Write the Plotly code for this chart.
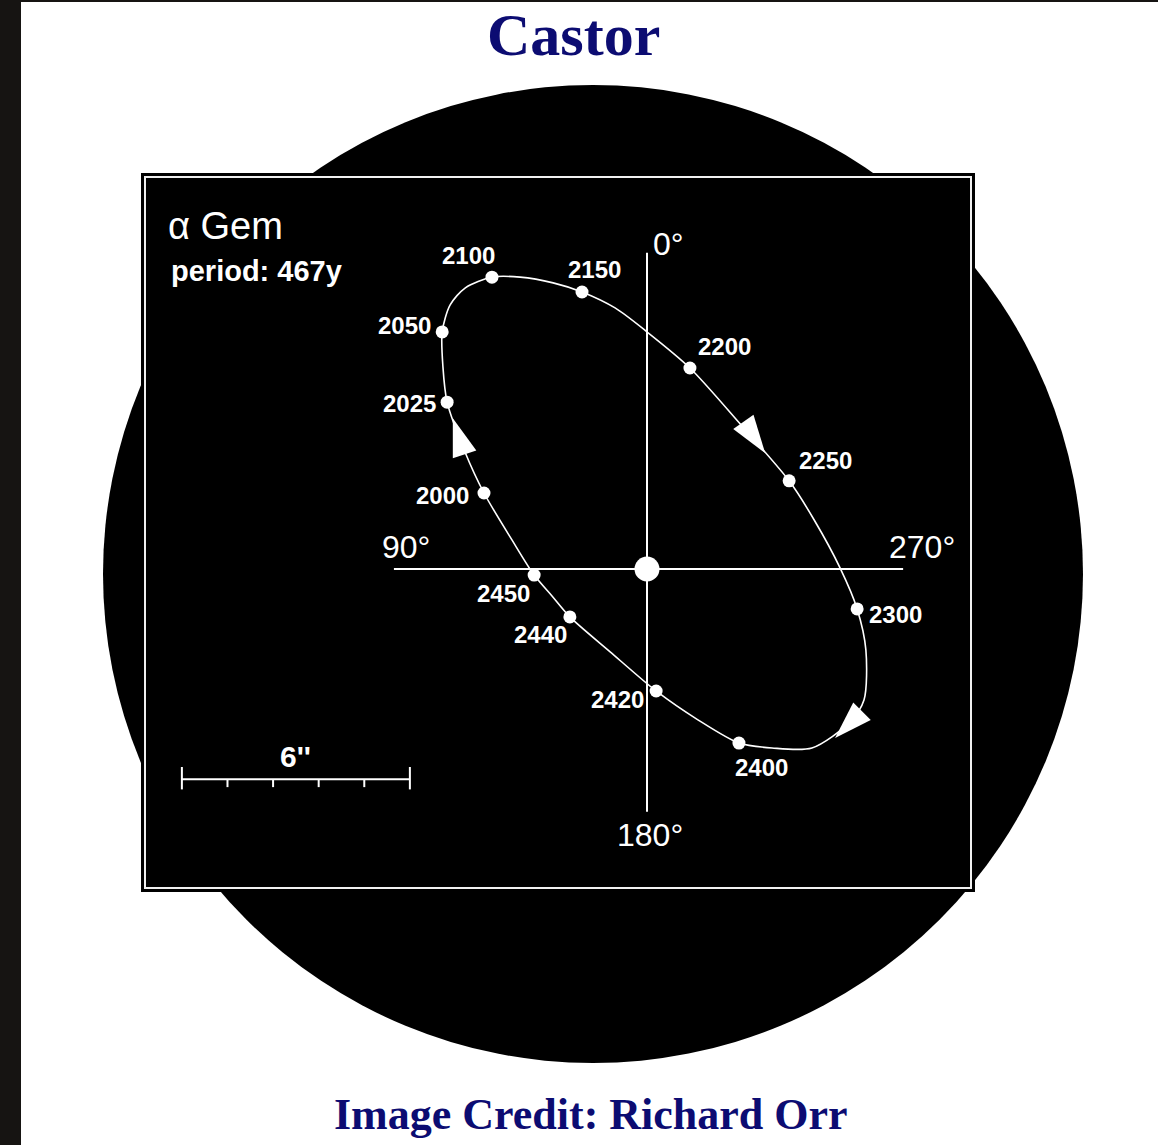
import plotly.graph_objects as go

# ------------------------------------------------------------------
# DATA  (offsets of the companion from the primary, arcseconds;
#        x grows toward 270°, y grows toward 0°)
# ------------------------------------------------------------------
years = ["2000", "2025", "2050", "2100", "2150", "2200",
         "2250", "2300", "2400", "2420", "2440", "2450"]
year_x = [-4.29, -5.26, -5.39, -4.08, -1.71, 1.13, 3.74, 5.53, 2.42, 0.24, -2.03, -2.97]
year_y = [2.00, 4.39, 6.24, 7.68, 7.29, 5.29, 2.32, -1.05, -4.58, -3.21, -1.26, -0.16]

# orbit path (starting and ending at 2000)
orbit_x = [-4.29, -4.79, -5.26, -5.37, -5.39, -5.18, -4.78, -4.08, -3.34, -2.47,
           -1.71, -0.84, 0.00, 1.13, 2.45, 3.74, 4.40, 5.08, 5.53, 5.76,
           5.71, 5.34, 4.34, 3.29, 2.42, 1.34, 0.24, -0.97, -2.03, -2.50,
           -2.97, -3.55, -4.29]
orbit_y = [2.00, 3.08, 4.39, 5.32, 6.24, 6.95, 7.40, 7.68, 7.68, 7.53,
           7.29, 6.87, 6.24, 5.29, 3.82, 2.32, 1.29, 0.03, -1.05, -2.13,
           -3.45, -4.03, -4.71, -4.71, -4.58, -3.97, -3.21, -2.18, -1.26, -0.71,
           -0.16, 0.76, 2.00]

# direction-of-motion arrowheads (tip positions, heading in degrees clockwise from 0°-up)
arrow_x = [-5.11, 3.11, 4.95]
arrow_y = [3.97, 3.05, -4.45]
arrow_heading = [-18, 145, 225]

# crosshair extents through the primary
cross_x = [-6.66, 6.74]
cross_y = [-6.39, 8.32]
angle_labels = ["0°", "90°", "180°", "270°"]

# scale bar
scale_len = 6.0          # arcsec
scale_div = 5
scale_label = "6''"

star_name = "α Gem"
period_text = "period: 467y"
title_text = "Castor"
credit_text = "Image Credit: Richard Orr"

# ------------------------------------------------------------------
# LAYOUT / STYLE
# ------------------------------------------------------------------
W, H = 1158, 1145
SCALE = 38.0            # px per arcsec
OX, OY = 647, 569       # page pixel of the primary star
xr = [(0 - OX) / SCALE, (W - OX) / SCALE]
yr = [(OY - H) / SCALE, OY / SCALE]

def pxx(v):
    return v / W

def pxy(v):
    return 1 - v / H

DARK = "#161412"
NAVY = "#0c0c72"
SANS = "Liberation Sans, Arial, sans-serif"
SERIF = "Liberation Serif, Times New Roman, serif"

fig = go.Figure()

# crosshair
fig.add_trace(go.Scatter(x=cross_x, y=[0, 0], mode="lines",
                         line=dict(color="white", width=2), hoverinfo="skip"))
fig.add_trace(go.Scatter(x=[0, 0], y=cross_y, mode="lines",
                         line=dict(color="white", width=2), hoverinfo="skip"))

# orbit
fig.add_trace(go.Scatter(x=orbit_x, y=orbit_y, mode="lines",
                         line=dict(color="white", width=1.6, shape="spline", smoothing=0.8),
                         hoverinfo="skip"))

# dated positions
fig.add_trace(go.Scatter(x=year_x, y=year_y, mode="markers", text=years,
                         marker=dict(color="white", size=13, line=dict(width=0))))

# primary
fig.add_trace(go.Scatter(x=[0], y=[0], mode="markers",
                         marker=dict(color="white", size=25, line=dict(width=0))))

# arrowheads
fig.add_trace(go.Scatter(x=arrow_x, y=arrow_y, mode="markers",
                         marker=dict(symbol="arrow", color="white", size=40,
                                     angle=arrow_heading, line=dict(width=0)),
                         hoverinfo="skip"))

# scale bar
sx0 = cross_x[0] - 5.58
sy0 = -5.53
fig.add_trace(go.Scatter(x=[sx0, sx0 + scale_len], y=[sy0, sy0], mode="lines",
                         line=dict(color="white", width=2), hoverinfo="skip"))
tick_x, tick_y = [], []
for i in range(scale_div + 1):
    tx = sx0 + i * scale_len / scale_div
    if i in (0, scale_div):
        tick_x += [tx, tx, None]
        tick_y += [sy0 + 0.32, sy0 - 0.27, None]
    else:
        tick_x += [tx, tx, None]
        tick_y += [sy0, sy0 - 0.21, None]
fig.add_trace(go.Scatter(x=tick_x, y=tick_y, mode="lines",
                         line=dict(color="white", width=2), hoverinfo="skip"))

annotations = []

# year labels: (xanchor, xshift, yshift)
label_style = {
    "2000": ("right", -13, -2),
    "2025": ("right", -9, -1),
    "2050": ("right", -9, 6),
    "2100": ("center", -23, 22),
    "2150": ("center", 12, 22),
    "2200": ("left", 6, 21),
    "2250": ("left", 8, 20),
    "2300": ("left", 10, -6),
    "2400": ("center", 23, -24),
    "2420": ("right", -10, -9),
    "2440": ("right", -1, -18),
    "2450": ("right", -2, -18),
}
for yl, xv, yv in zip(years, year_x, year_y):
    xa, xs, ys = label_style[yl]
    annotations.append(dict(x=xv, y=yv, xref="x", yref="y", text=f"<b>{yl}</b>",
                            showarrow=False, xanchor=xa, yanchor="middle",
                            xshift=xs, yshift=ys,
                            font=dict(family=SANS, size=24, color="white")))

# angle labels
ang_pos = [
    (0, cross_y[1], "left", 4, 9),
    (cross_x[0], 0, "center", 12, 22),
    (0, cross_y[0], "center", 3, -23),
    (cross_x[1], 0, "center", 19, 22),
]
for txt, (ax_, ay_, xa, xs, ys) in zip(angle_labels, ang_pos):
    annotations.append(dict(x=ax_, y=ay_, xref="x", yref="y", text=txt,
                            showarrow=False, xanchor=xa, yanchor="middle",
                            xshift=xs, yshift=ys,
                            font=dict(family=SANS, size=32, color="white")))

# scale label
annotations.append(dict(x=sx0 + scale_len / 2, y=sy0, xref="x", yref="y",
                        text=f"<b>{scale_label}</b>", showarrow=False, xanchor="center",
                        yanchor="middle", yshift=23,
                        font=dict(family=SANS, size=30, color="white")))

# name & period
annotations.append(dict(x=pxx(166), y=pxy(226), xref="paper", yref="paper",
                        text=star_name, showarrow=False, xanchor="left", yanchor="middle",
                        font=dict(family=SANS, size=38, color="white")))
annotations.append(dict(x=pxx(169), y=pxy(271), xref="paper", yref="paper",
                        text=f"<b>{period_text}</b>", showarrow=False,
                        xanchor="left", yanchor="middle",
                        font=dict(family=SANS, size=29, color="white")))

# title & credit
annotations.append(dict(x=pxx(573), y=pxy(35), xref="paper", yref="paper",
                        text=f"<b>{title_text}</b>", showarrow=False,
                        xanchor="center", yanchor="middle",
                        font=dict(family=SERIF, size=60, color=NAVY)))
annotations.append(dict(x=pxx(591), y=pxy(1114), xref="paper", yref="paper",
                        text=f"<b>{credit_text}</b>", showarrow=False,
                        xanchor="center", yanchor="middle",
                        font=dict(family=SERIF, size=44, color=NAVY)))

shapes = [
    dict(type="rect", xref="paper", yref="paper", x0=0, x1=pxx(21), y0=0, y1=1,
         fillcolor=DARK, line=dict(width=0), layer="below"),
    dict(type="rect", xref="paper", yref="paper", x0=0, x1=1, y0=pxy(2), y1=1,
         fillcolor=DARK, line=dict(width=0), layer="below"),
    dict(type="circle", xref="paper", yref="paper", x0=pxx(103), x1=pxx(1083),
         y0=pxy(1063), y1=pxy(85), fillcolor="black", line=dict(width=0), layer="below"),
    dict(type="rect", xref="paper", yref="paper", x0=pxx(141), x1=pxx(975),
         y0=pxy(892), y1=pxy(173), fillcolor="black", line=dict(width=0), layer="below"),
    dict(type="rect", xref="paper", yref="paper", x0=pxx(145), x1=pxx(971),
         y0=pxy(888), y1=pxy(177), fillcolor="rgba(0,0,0,0)",
         line=dict(color="#f0f0f0", width=2), layer="below"),
]

fig.update_layout(
    width=W, height=H,
    margin=dict(l=0, r=0, t=0, b=0),
    paper_bgcolor="white",
    plot_bgcolor="rgba(0,0,0,0)",
    showlegend=False,
    xaxis=dict(range=xr, visible=False, fixedrange=True),
    yaxis=dict(range=yr, visible=False, fixedrange=True),
    shapes=shapes,
    annotations=annotations,
    hovermode=False,
)

fig.write_html("out.html", config={"displayModeBar": False},
               post_script="document.body.style.margin='0';")
